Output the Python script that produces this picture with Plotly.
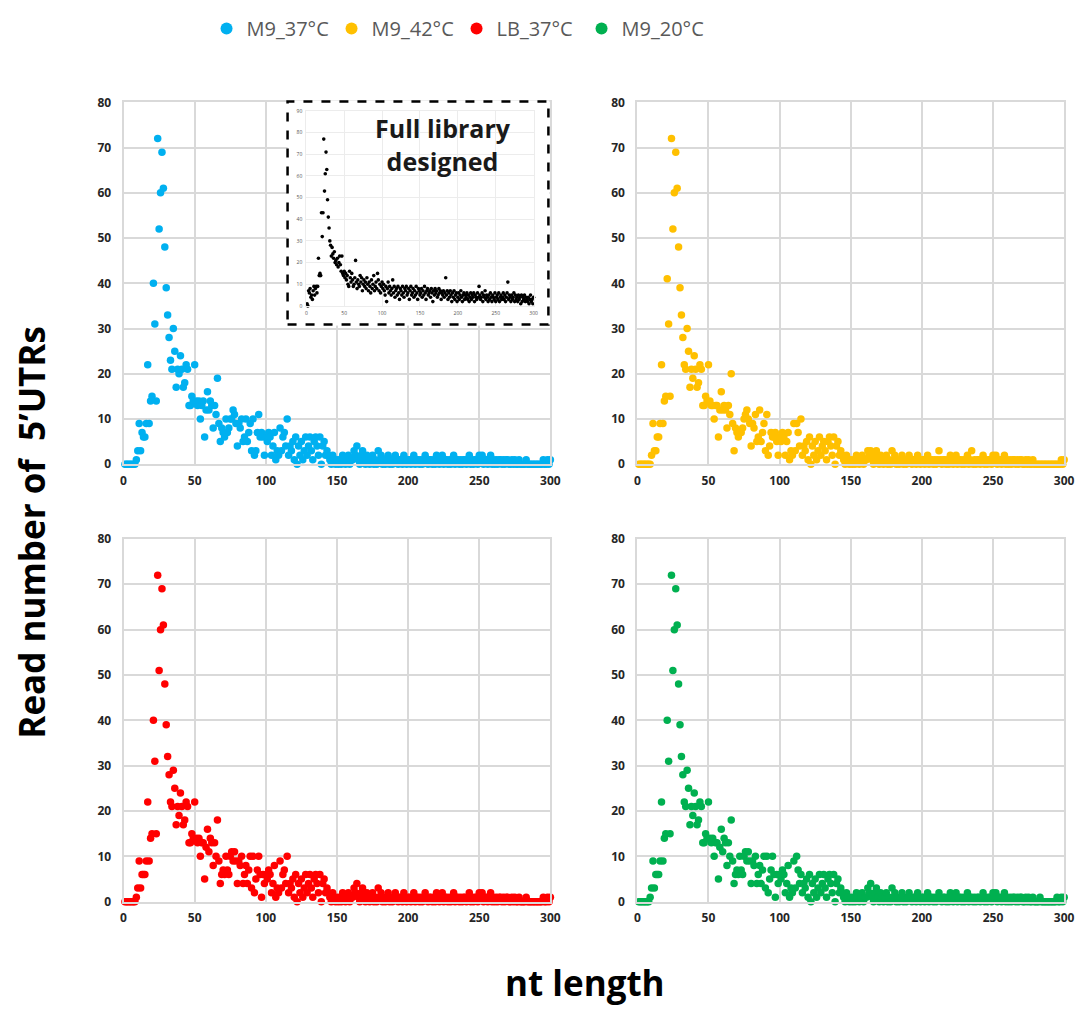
import plotly.graph_objects as go

W, H = 1088, 1010

nt_length = list(range(1, 301))

m9_37 = [
    0,0,0,0,0,0,0,0,1,3, 9,3,7,6,6,9,22,9,14,15, 40,31,14,72,52,60,69,61,48,39,
    33,28,23,21,30,25,17,21,20,24, 21,17,18,22,21,13,13,15,14,22, 14,13,14,10,13,14,6,12,16,12,
    14,13,8,13,11,19,9,5,8,7, 6,10,7,8,10,10,12,11,9,4, 9,8,10,5,6,10,5,7,9,3,
    10,2,3,7,11,6,7,6,2,6, 5,7,6,2,4,7,1,3,2,8, 3,6,7,4,10,2,4,3,5,1,
    6,0,4,2,5,1,3,6,2,4, 6,3,1,5,6,4,2,6,0,4, 5,2,3,2,1,0,2,1,0,1,
    0,1,0,2,1,0,1,2,0,1, 1,3,2,4,1,0,2,3,1,0, 2,1,0,1,2,0,1,0,3,1,
    2,0,1,0,1,2,0,1,0,1, 2,1,0,1,1,0,2,1,0,1, 1,0,1,2,0,1,1,0,1,0,
    1,2,1,0,1,1,0,1,0,2, 1,0,1,2,0,1,1,0,1,0, 1,2,0,1,1,0,1,0,1,1,
    0,1,2,0,1,0,1,1,0,2, 1,2,0,1,1,0,1,2,0,1, 0,1,0,1,1,0,1,0,1,1,
    0,0,1,0,1,0,0,1,0,0, 0,0,1,0,0,0,0,0,0,0, 0,0,0,0,1,0,0,1,0,1,
]

m9_42 = [
    0,0,0,0,0,0,0,0,0,2, 9,3,3,6,6,9,22,9,14,15, 41,31,15,72,52,60,69,61,48,39,
    33,28,22,21,30,25,17,21,19,24, 21,17,18,22,21,13,13,15,14,22, 14,13,13,10,13,13,6,12,16,12,
    13,12,8,13,11,20,9,3,8,7, 6,7,7,8,10,11,12,10,9,4, 9,8,11,5,6,12,5,7,9,3,
    11,2,4,7,6,6,7,5,2,6, 5,7,6,2,5,7,1,3,2,9, 3,9,7,4,10,2,4,3,5,1,
    6,0,4,2,5,1,3,6,2,4, 5,3,1,5,6,4,2,6,0,4, 5,2,3,2,1,0,2,1,0,1,
    0,1,0,2,1,0,1,2,0,1, 1,3,2,3,1,0,2,3,1,0, 2,1,0,1,2,0,1,0,3,1,
    2,0,1,0,1,2,0,1,0,1, 2,1,0,1,1,0,2,1,0,1, 1,0,1,2,0,1,1,0,1,0,
    1,3,1,0,1,1,0,1,0,2, 1,0,1,2,0,1,1,0,1,0, 1,2,0,1,3,0,1,0,1,1,
    0,1,2,0,1,0,1,1,0,2, 1,2,0,1,1,0,1,2,0,1, 0,1,0,1,1,0,1,0,1,1,
    0,0,1,0,1,0,0,1,0,0, 0,0,0,0,0,0,0,0,0,0, 0,0,0,0,0,0,0,1,0,1,
]

lb_37 = [
    0,0,0,0,0,0,0,0,1,3, 9,3,6,6,6,9,22,9,14,15, 40,31,15,72,51,60,69,61,48,39,
    32,28,22,21,29,25,17,21,19,24, 21,17,18,22,21,13,13,15,14,22, 14,13,14,10,13,13,5,12,16,11,
    14,13,8,13,10,18,9,4,6,7, 6,10,7,6,10,11,9,11,9,4, 9,8,10,4,6,8,4,7,10,3,
    10,2,5,7,10,6,1,6,4,6, 5,7,6,2,4,8,1,3,2,9, 3,6,7,4,10,2,4,3,5,1,
    6,0,4,2,5,1,3,6,2,4, 6,3,1,5,6,4,2,6,0,4, 5,2,3,2,1,0,2,1,0,1,
    0,1,0,2,1,0,1,2,0,1, 1,3,2,4,1,0,2,3,1,0, 2,1,0,1,2,0,1,0,3,1,
    2,0,1,0,1,2,0,1,0,1, 2,1,0,1,1,0,2,1,0,1, 1,0,1,2,0,1,1,0,1,0,
    1,2,1,0,1,1,0,1,0,2, 1,0,1,2,0,1,1,0,1,0, 1,2,0,1,1,0,1,0,1,1,
    0,1,2,0,1,0,1,1,0,2, 1,2,0,1,1,0,1,2,0,1, 0,1,0,1,1,0,1,0,1,1,
    0,0,1,0,1,0,0,1,0,0, 0,0,1,0,0,0,0,0,0,0, 0,0,0,0,1,0,0,1,0,1,
]

m9_20 = [
    0,0,0,0,0,0,0,0,1,3, 9,3,6,6,6,9,22,9,14,15, 40,31,15,72,51,60,69,61,48,39,
    32,28,22,21,29,25,17,21,19,24, 21,17,18,22,21,13,13,15,14,22, 14,13,14,10,13,13,5,12,16,11,
    14,13,8,13,10,18,9,4,6,7, 6,10,7,6,10,11,9,11,9,4, 9,8,10,4,6,8,4,7,10,3,
    10,2,5,7,10,6,1,6,4,6, 5,7,6,2,4,8,1,3,2,9, 3,10,7,4,6,2,4,3,5,1,
    6,0,4,2,5,1,3,6,2,4, 6,3,1,5,6,4,2,6,0,4, 5,2,3,2,1,0,2,1,0,1,
    0,1,0,2,1,0,1,2,0,1, 1,3,2,4,1,0,2,3,1,0, 2,1,0,1,2,0,1,0,3,1,
    2,0,1,0,1,2,0,1,0,1, 2,1,0,1,1,0,2,1,0,1, 1,0,1,2,0,1,1,0,1,0,
    1,2,1,0,1,1,0,1,0,2, 1,0,1,2,0,1,1,0,1,0, 1,2,0,1,1,0,1,0,1,1,
    0,1,2,0,1,0,1,1,0,2, 1,2,0,1,1,0,1,2,0,1, 0,1,0,1,1,0,1,0,1,1,
    0,0,1,0,1,0,0,1,0,0, 0,0,1,0,0,0,0,0,0,0, 0,0,0,0,1,0,0,1,0,1,
]

full_library = [
    1,0,7,6,8,4,5,3,7,9, 5,8,9,6,9,22,14,15,14,43, 32,43,77,53,61,71,63,49,41,36,
    30,28,23,27,24,22,25,20,21,19, 22,18,20,23,19,16,23,15,14,16, 13,15,12,14,10,9,16,13,11,15,
    12,9,10,13,21,11,8,12,10,9, 14,11,13,7,10,12,9,11,8,13, 10,7,11,9,6,12,8,10,14,7,
    9,11,8,15,12,7,10,6,9,11, 8,10,7,5,9,2,8,11,6,9, 7,5,8,12,6,9,4,7,8,5,
    9,6,3,8,7,5,9,6,4,8, 7,9,5,6,8,3,7,9,5,6, 8,4,7,5,9,6,3,8,7,5,
    6,8,4,7,5,9,6,3,7,8, 5,6,7,4,8,6,2,7,5,8, 6,7,4,5,8,6,7,3,6,5,
    7,4,6,13,5,7,3,6,4,7, 5,2,6,4,7,3,5,6,2,4, 6,3,5,7,4,2,5,6,3,5,
    4,6,3,5,2,4,6,3,5,4, 6,2,5,4,3,6,4,9,5,3, 4,6,2,5,4,7,3,5,4,2,
    5,3,6,4,2,5,4,3,6,2, 4,5,3,6,2,4,5,3,4,6, 3,5,2,4,6,11,3,5,4,2,
    5,3,4,6,2,5,3,4,2,5, 3,4,1,5,2,4,3,5,2,4, 3,2,4,1,3,5,2,3,1,4,
]

series = [
    ("M9_37°C", m9_37, "#00B0F0", "x", "y"),
    ("M9_42°C", m9_42, "#FFC000", "x2", "y2"),
    ("LB_37°C", lb_37, "#FF0000", "x3", "y3"),
    ("M9_20°C", m9_20, "#00B050", "x4", "y4"),
]

x_ticks = [0, 50, 100, 150, 200, 250, 300]
y_ticks = [0, 10, 20, 30, 40, 50, 60, 70, 80]
inset_y_ticks = [0, 10, 20, 30, 40, 50, 60, 70, 80, 90]


def px_x(p):
    return p / W


def px_y(p):
    return 1 - p / H


fig = go.Figure()
for name, vals, color, xa, ya in series:
    fig.add_trace(go.Scatter(
        x=nt_length, y=vals, mode="markers", name=name,
        xaxis=xa, yaxis=ya, cliponaxis=False,
        marker=dict(color=color, size=7.5, line=dict(width=0)),
    ))

# empty white panel behind the inset (hides the main grid inside the dashed box)
fig.add_trace(go.Scatter(x=[None], y=[None], xaxis="x5", yaxis="y5",
                         showlegend=False, hoverinfo="skip"))

fig.add_trace(go.Scatter(
    x=nt_length, y=full_library, mode="markers", name="Full library designed",
    xaxis="x6", yaxis="y6", showlegend=False, cliponaxis=False,
    marker=dict(color="#000000", size=3.6, line=dict(width=0)),
))

tick_font = dict(family="Open Sans", size=12, color="#262626", weight=700)
grid = "#d9d9d9"


def main_x(dom, anchor):
    return dict(domain=dom, anchor=anchor, range=[0, 300], tickvals=x_ticks,
                showgrid=True, gridcolor=grid, gridwidth=2, zeroline=False,
                showline=True, mirror=True, linecolor=grid, linewidth=2,
                ticks="", tickfont=tick_font, ticklabelstandoff=4, fixedrange=True)


def main_y(dom, anchor):
    return dict(domain=dom, anchor=anchor, range=[0, 80], tickvals=y_ticks,
                showgrid=True, gridcolor=grid, gridwidth=2, zeroline=False,
                showline=True, mirror=True, linecolor=grid, linewidth=2,
                ticks="", tickfont=tick_font, ticklabelstandoff=8, fixedrange=True)


blank = dict(showgrid=False, zeroline=False, showline=False, showticklabels=False,
             ticks="", fixedrange=True, range=[0, 1])

left_x = [px_x(122), px_x(554)]
right_x = [px_x(642), px_x(1074)]
top_y = [px_y(463), px_y(95)]
bot_y = [px_y(908), px_y(539)]

fig.update_layout(
    width=W, height=H, autosize=False,
    margin=dict(l=0, r=0, t=0, b=0),
    paper_bgcolor="white", plot_bgcolor="white",
    xaxis=main_x(left_x, "y"), yaxis=main_y(top_y, "x"),
    xaxis2=main_x(right_x, "y2"), yaxis2=main_y(top_y, "x2"),
    xaxis3=main_x(left_x, "y3"), yaxis3=main_y(bot_y, "x3"),
    xaxis4=main_x(right_x, "y4"), yaxis4=main_y(bot_y, "x4"),
    xaxis5=dict(domain=[px_x(288), px_x(553)], anchor="y5", **blank),
    yaxis5=dict(domain=[px_y(322), px_y(93)], anchor="x5", **blank),
    xaxis6=dict(domain=[px_x(307), px_x(537)], anchor="y6", range=[0, 300], tickvals=x_ticks,
                showgrid=True, gridcolor="#ececec", gridwidth=1, zeroline=False,
                showline=True, mirror=True, linecolor="#ececec", linewidth=1,
                ticks="", tickfont=dict(family="Open Sans", size=5, color="#555"),
                ticklabelstandoff=2, fixedrange=True),
    yaxis6=dict(domain=[px_y(302), px_y(103.7)], anchor="x6", range=[0, 90], tickvals=inset_y_ticks,
                showgrid=True, gridcolor="#ececec", gridwidth=1, zeroline=False,
                showline=True, mirror=True, linecolor="#ececec", linewidth=1,
                ticks="", tickfont=dict(family="Open Sans", size=5, color="#555"),
                ticklabelstandoff=2, fixedrange=True),
    legend=dict(orientation="h", x=px_x(206), y=px_y(0), xanchor="left", yanchor="top",
                font=dict(family="Open Sans", size=20, color="#595959"),
                itemsizing="constant", bgcolor="rgba(0,0,0,0)", tracegroupgap=0,
                entrywidth=80, entrywidthmode="pixels"),
    showlegend=True,
)

fig.add_shape(type="rect", xref="paper", yref="paper",
              x0=px_x(288), x1=px_x(552), y0=px_y(321), y1=px_y(94),
              fillcolor="rgba(0,0,0,0)", line=dict(color="black", width=2.5, dash="dash"),
              layer="above")

fig.add_annotation(text="<b>Full library<br>designed</b>", xref="paper", yref="paper",
                   x=px_x(445), y=px_y(138), xanchor="center", yanchor="middle",
                   showarrow=False,
                   font=dict(family="Open Sans", size=25, color="#1a1a1a"))

fig.add_annotation(text="<b>Read number of\u00a0\u00a05’UTRs</b>", xref="paper", yref="paper",
                   x=px_x(28), y=px_y(532), xanchor="center", yanchor="middle",
                   textangle=-90, showarrow=False,
                   font=dict(family="Open Sans", size=35, color="black"))
fig.add_annotation(text="<b>nt length</b>", xref="paper", yref="paper",
                   x=px_x(589), y=px_y(990), xanchor="center", yanchor="middle",
                   showarrow=False,
                   font=dict(family="Open Sans", size=35, color="black"))

fig.write_html("out.html", config={"displayModeBar": False},
               post_script="document.body.style.margin='0';")
